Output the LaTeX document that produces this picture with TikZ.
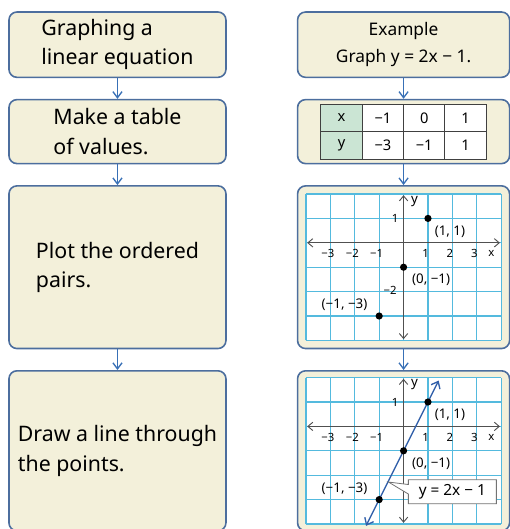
\documentclass[tikz,border=0pt]{standalone}
\usepackage{fontspec}
\setmainfont{Noto Sans}
\definecolor{boxblue}{RGB}{76, 110, 158}
\definecolor{boxfill}{RGB}{243, 240, 218}
\definecolor{flowblue}{RGB}{56, 112, 182}
\definecolor{gridcyan}{RGB}{84, 186, 222}
\definecolor{headgreen}{RGB}{203, 229, 212}
\definecolor{axisgray}{RGB}{80, 80, 80}
\definecolor{lineblue}{RGB}{50, 96, 170}
\usetikzlibrary{arrows.meta, positioning, shapes.callouts}
\tikzset{
	stepbox/.style={rectangle, rounded corners=6pt, draw=boxblue, fill=boxfill, line width=1.2pt, align=left, minimum width=162.75pt, font=\fontsize{16}{22}\selectfont},
	examplebox/.style={stepbox, align=center, minimum width=159pt, font=\fontsize{13}{20}\selectfont},
	flowarrow/.style={-{Straight Barb[length=1.6mm, width=2.4mm]}, line width=1pt, draw=flowblue},
	cell/.style={draw=black!75, line width=0.8pt, minimum width=31pt, minimum height=20.6pt, inner sep=0pt, font=\fontsize{11}{13}\selectfont},
	gridline/.style={draw=gridcyan, line width=0.9pt},
	axis/.style={{Straight Barb[length=1.3mm, width=2.2mm]}-{Straight Barb[length=1.3mm, width=2.2mm]}, draw=axisgray, line width=0.7pt},
	ticklabel/.style={font=\fontsize{8.5}{10}\selectfont, inner sep=1pt},
	ptlabel/.style={font=\fontsize{10}{12}\selectfont, inner sep=1pt},
	solution/.style={{Straight Barb[length=1.6mm, width=2.6mm]}-{Straight Barb[length=1.6mm, width=2.6mm]}, draw=lineblue, line width=1pt},
}

\begin{document}
\begin{tikzpicture}[node distance=15.5pt and 52.5pt]
	\useasboundingbox (0,0) rectangle (382.5pt,-396.75pt);
	% steps on the left
	\node[stepbox, minimum height=49pt] (s1) at (88.1pt,-33.5pt) {Graphing a\\linear equation};
	\node[stepbox, minimum height=48pt, below=of s1] (s2) {Make a table\\of values.};
	\node[stepbox, minimum height=122pt, below=of s2] (s3) {Plot the ordered\\pairs.};
	\node[stepbox, minimum height=120pt, below=of s3] (s4) {Draw a line through\\the points.};
	% example on the right
	\node[examplebox, minimum height=49pt, right=of s1] (e1) {Example\\Graph y = 2x − 1.};
	\node[examplebox, minimum height=48pt, right=of s2] (e2) {};
	\node[examplebox, minimum height=122pt, right=of s3] (e3) {};
	\node[examplebox, minimum height=120pt, right=of s4] (e4) {};
	\foreach \a/\b in {s1/s2, s2/s3, s3/s4, e1/e2, e2/e3, e3/e4}
		\draw[flowarrow] (\a) -- (\b);
	% table of values
	\begin{scope}[shift={(e2.center)}]
		\foreach [count=\c] \t/\f in {x/headgreen, −1/white, 0/white, 1/white}
			\node[cell, fill=\f] (tx\c) at (\c*31pt-77.5pt, 10.3pt) {\t};
		\foreach [count=\c] \t/\f in {y/headgreen, −3/white, −1/white, 1/white}
			\node[cell, fill=\f] (ty\c) at (\c*31pt-77.5pt, -10.3pt) {\t};
	\end{scope}
	% coordinate planes
	\foreach \g in {e3, e4} {
		\begin{scope}[shift={(\g.center)}, yshift=18.3pt, x=18.3pt, y=18.3pt]
			\fill[white] (-4,-4) rectangle (4,2);
			\draw[gridline, step=1] (-4,-4) grid (4,2);
			\draw[axis] (-3.95,0) -- (3.95,0);
			\draw[axis] (0,-3.95) -- (0,1.95);
			\foreach \i/\t in {-3/−3, -2/−2, -1/−1, 1/1, 2/2, 3/3}
				\node[ticklabel] (\g-x\i) at (\i-0.1,-0.45) {\t};
			\node[ticklabel] (\g-xl) at (3.6,-0.45) {x};
			\node[ptlabel] (\g-yl) at (0.45,1.7) {y};
			\node[ticklabel] (\g-y1) at (-0.35,1) {1};
			\coordinate (\g-p1) at (1,1);
			\coordinate (\g-p2) at (0,-1);
			\coordinate (\g-p3) at (-1,-3);
			\node[ptlabel] (\g-l1) at (1.9,0.47) {(1, 1)};
			\node[ptlabel] (\g-l2) at (1.13,-1.52) {(0, −1)};
			\node[ptlabel] (\g-l3) at (-2.42,-2.54) {(−1, −3)};
		\end{scope}
	}
	\begin{scope}[shift={(e3.center)}, yshift=18.3pt, x=18.3pt, y=18.3pt]
		\node[ticklabel] (e3-y2) at (-0.55,-1.95) {−2};
	\end{scope}
	% the line y = 2x - 1
	\draw[solution, shorten <=-22pt, shorten >=-18pt] (e4-p3) -- (e4-p1);
	\begin{scope}[shift={(e4.center)}, yshift=18.3pt, x=18.3pt, y=18.3pt]
		\coordinate (tip) at (-0.62,-2.28);
		\node[rectangle callout, callout absolute pointer={(tip)}, draw=black!55, fill=white, line width=0.6pt, minimum width=66pt, minimum height=18pt, inner sep=1pt, font=\fontsize{11.5}{13}\selectfont] (eqn) at (2.0,-2.68) {y = 2x − 1};
	\end{scope}
	\foreach \g in {e3, e4}
		\foreach \p in {p1, p2, p3}
			\fill (\g-\p) circle (2.7pt);
\end{tikzpicture}
\end{document}
